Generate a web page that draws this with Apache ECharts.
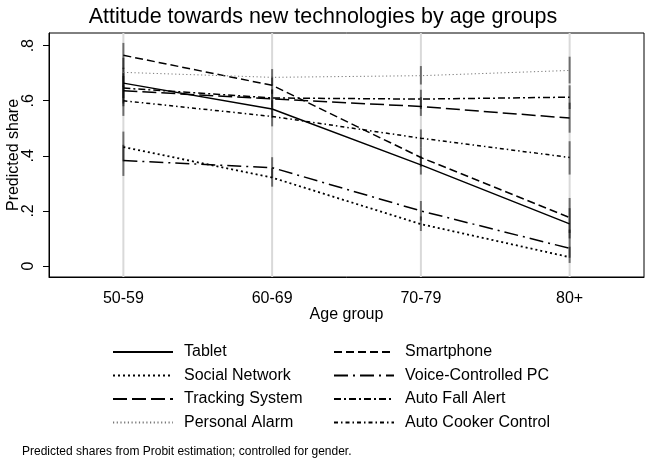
<!DOCTYPE html>
<html>
<head>
<meta charset="utf-8">
<script src="https://cdn.jsdelivr.net/npm/echarts@6/dist/echarts.min.js"></script>
<style>
html,body{margin:0;padding:0;background:#fff;}
#chart{width:646px;height:461px;}
</style>
</head>
<body>
<div id="chart"></div>
<script>
// ---- data ----
const categories = ['50-59', '60-69', '70-79', '80+'];
const yTicks = [0, 0.2, 0.4, 0.6, 0.8];

const seriesNames = ['Tablet', 'Smartphone', 'Social Network', 'Voice-Controlled PC',
  'Tracking System', 'Auto Fall Alert', 'Personal Alarm', 'Auto Cooker Control'];

const tablet         = [0.664, 0.570, 0.367, 0.153];
const smartphone     = [0.765, 0.656, 0.394, 0.176];
const socialNetwork  = [0.432, 0.321, 0.152, 0.032];
const voicePC        = [0.383, 0.357, 0.200, 0.064];
const trackingSystem = [0.636, 0.607, 0.579, 0.537];
const autoFallAlert  = [0.646, 0.610, 0.606, 0.613];
const personalAlarm  = [0.703, 0.685, 0.691, 0.710];
const autoCooker     = [0.600, 0.543, 0.464, 0.394];

// confidence intervals (lower / upper)
const tabletLo = [0.610, 0.538, 0.332, 0.100], tabletHi = [0.720, 0.602, 0.400, 0.210];
const smartLo  = [0.715, 0.625, 0.360, 0.120], smartHi  = [0.810, 0.687, 0.430, 0.247];
const socialLo = [0.380, 0.288, 0.127, 0.011], socialHi = [0.488, 0.355, 0.180, 0.070];
const voiceLo  = [0.327, 0.320, 0.165, 0.030], voiceHi  = [0.440, 0.395, 0.236, 0.132];
const trackLo  = [0.580, 0.575, 0.545, 0.484], trackHi  = [0.690, 0.640, 0.613, 0.593];
const fallLo   = [0.590, 0.578, 0.570, 0.570], fallHi   = [0.700, 0.642, 0.640, 0.656];
const alarmLo  = [0.650, 0.655, 0.659, 0.663], alarmHi  = [0.756, 0.715, 0.726, 0.760];
const cookerLo = [0.545, 0.507, 0.430, 0.332], cookerHi = [0.655, 0.578, 0.496, 0.453];

const values = [tablet, smartphone, socialNetwork, voicePC, trackingSystem, autoFallAlert, personalAlarm, autoCooker];
const lows   = [tabletLo, smartLo, socialLo, voiceLo, trackLo, fallLo, alarmLo, cookerLo];
const highs  = [tabletHi, smartHi, socialHi, voiceHi, trackHi, fallHi, alarmHi, cookerHi];

// ---- styles ----
const styles = [
  {type: 'solid', width: 1.5, color: '#000'},
  {type: [8, 4], width: 1.5, color: '#000'},
  {type: [2, 3], width: 1.8, color: '#000'},
  {type: [14, 5, 2, 5], width: 1.5, color: '#000'},
  {type: [14, 5], width: 1.5, color: '#000'},
  {type: [7, 3, 2, 3], width: 1.5, color: '#000'},
  {type: [1.2, 2.5], width: 1, color: '#777'},
  {type: [4, 3, 1.5, 3], width: 1.5, color: '#000'}
];

const Y_MIN = -0.04, Y_MAX = 0.846;

const errData = [];
values.forEach((v, s) => v.forEach((_, i) => errData.push([i, lows[s][i], highs[s][i]])));
const gridData = categories.map((c, i) => [i, Y_MIN, Y_MAX]);

const vline = (stroke, w) => function (params, api) {
  const x = api.value(0);
  const p1 = api.coord([x, api.value(1)]);
  const p2 = api.coord([x, api.value(2)]);
  return {type: 'line', shape: {x1: p1[0], y1: p1[1], x2: p2[0], y2: p2[1]},
    style: {stroke: stroke, lineWidth: w}};
};

const lineSeries = seriesNames.map((n, s) => ({
  name: n, type: 'line', data: values[s], symbol: 'none', showSymbol: false, z: 5,
  color: styles[s].color,
  lineStyle: {type: styles[s].type, width: styles[s].width, color: styles[s].color},
  animation: false
}));

const FONT = 'Liberation Sans, Arial, sans-serif';
const legendCommon = {
  orient: 'vertical', top: 344, padding: 0, itemWidth: 60, itemHeight: 16, itemGap: 7.5,
  itemStyle: {opacity: 0},
  textStyle: {fontFamily: FONT, fontSize: 16, color: '#000', padding: [0, 0, 0, 6]},
  selectedMode: false
};

const chart = echarts.init(document.getElementById('chart'));
chart.setOption({
  animation: false,
  backgroundColor: '#fff',
  title: {
    text: 'Attitude towards new technologies by age groups',
    left: 'center', top: 1,
    textStyle: {fontFamily: FONT, fontSize: 21.5, fontWeight: 'normal', color: '#000'}
  },
  grid: {left: 49, right: 2, top: 33, bottom: 184, outerBoundsMode: 'none', containLabel: false,
    show: true, borderColor: '#000', borderWidth: 1, backgroundColor: '#fff'},
  legend: [
    Object.assign({}, legendCommon, {left: 112, data: ['Tablet', 'Social Network', 'Tracking System', 'Personal Alarm']}),
    Object.assign({}, legendCommon, {left: 333, data: ['Smartphone', 'Voice-Controlled PC', 'Auto Fall Alert', 'Auto Cooker Control']})
  ],
  xAxis: {
    type: 'category', data: categories, boundaryGap: true,
    name: 'Age group', nameLocation: 'middle', nameGap: 30, nameMoveOverlap: false,
    nameTextStyle: {fontFamily: FONT, fontSize: 16, color: '#000'},
    axisLine: {onZero: false, lineStyle: {color: '#000', width: 1}},
    axisTick: {alignWithLabel: true, length: 6, lineStyle: {color: '#000'}},
    axisLabel: {fontFamily: FONT, fontSize: 16, color: '#000', margin: 14},
    splitLine: {show: false}
  },
  yAxis: {
    type: 'value', min: Y_MIN, max: Y_MAX,
    name: 'Predicted share', nameLocation: 'middle', nameGap: 27, nameMoveOverlap: false,
    nameTextStyle: {fontFamily: FONT, fontSize: 16, color: '#000'},
    axisLine: {show: true, onZero: false, lineStyle: {color: '#000', width: 1}},
    axisTick: {show: true, length: 6, customValues: yTicks, lineStyle: {color: '#000'}},
    axisLabel: {
      fontFamily: FONT, fontSize: 16, color: '#000', rotate: 90, margin: 12,
      customValues: yTicks,
      formatter: v => (Math.abs(v) < 1e-9 ? '0' : v.toFixed(1).replace(/^0/, ''))
    },
    splitLine: {show: false}
  },
  series: [
    {type: 'custom', name: '_grid', data: gridData, renderItem: vline('#d9d9d9', 2),
      encode: {x: 0, y: [1, 2]}, z: 1, silent: true, animation: false},
    {type: 'custom', name: '_err', data: errData, renderItem: vline('rgba(0,0,0,0.5)', 2),
      encode: {x: 0, y: [1, 2]}, z: 3, silent: true, animation: false}
  ].concat(lineSeries),
  graphic: [{
    type: 'text', left: 22, top: 446,
    style: {text: 'Predicted shares from Probit estimation; controlled for gender.',
      font: '12px Liberation Sans, Arial, sans-serif', fill: '#000'}
  }]
});
</script>
</body>
</html>
